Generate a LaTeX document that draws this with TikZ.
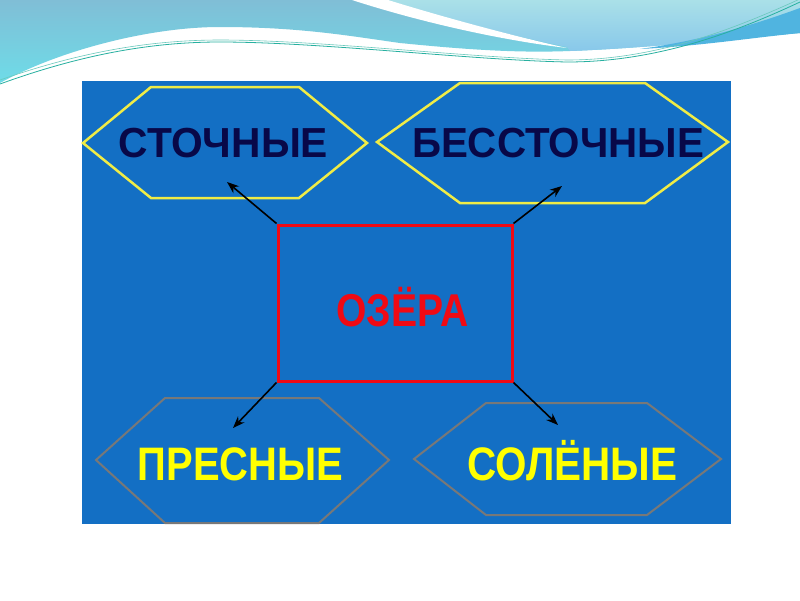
\documentclass[tikz,border=0pt]{standalone}
\usepackage{fontspec}
\setmainfont{Liberation Sans}
\usepackage{graphicx}
\usetikzlibrary{arrows.meta}
\definecolor{panel}{RGB}{19,111,196}
\definecolor{hexyellow}{RGB}{240,236,70}
\definecolor{hexgray}{RGB}{120,120,120}
\definecolor{navytext}{RGB}{8,8,72}
\definecolor{txtyellow}{RGB}{255,255,0}
\definecolor{boxred}{RGB}{240,10,20}
\definecolor{tealtop}{RGB}{128,190,214}
\definecolor{tealbot}{RGB}{110,220,232}
\definecolor{lighttop}{RGB}{170,224,232}
\definecolor{lightbot}{RGB}{136,200,234}
\definecolor{stripe}{RGB}{80,180,224}
\definecolor{thinline}{RGB}{40,176,160}
\tikzset{
  hexedge/.style={line width=2.5pt, draw=hexyellow, line join=miter},
  hexedgegray/.style={line width=2pt, draw=hexgray, line join=miter},
  toplabel/.style={anchor=base, text=navytext, font=\fontsize{42}{42}\selectfont\bfseries, inner sep=0pt},
  botlabel/.style={anchor=base, text=txtyellow, font=\fontsize{47}{47}\selectfont\bfseries, inner sep=0pt},
  centerbox/.style={draw=boxred, line width=3pt, minimum width=234pt, minimum height=156pt, inner sep=0pt},
  arr/.style={line width=1.6pt, -{Stealth[length=12pt,width=9pt]}, black}
}
\begin{document}
\begin{tikzpicture}[x=1pt,y=-1pt]
\useasboundingbox (0,0) rectangle (800,600);
\fill[white] (0,0) rectangle (800,600);
% top decoration
\shade[top color=tealtop, bottom color=tealbot]
  (0,0) -- (800,0) -- (800,33)
  .. controls (740,38) and (650,48) .. (570,51)
  .. controls (520,53) and (470,50) .. (400,43)
  .. controls (350,36) and (300,27) .. (220,27)
  .. controls (150,27) and (60,50) .. (0,83) -- cycle;
\shade[top color=lighttop, bottom color=lightbot]
  (385,0) -- (800,0) -- (800,33)
  .. controls (740,38) and (650,48) .. (570,51)
  -- (567,47)
  .. controls (500,33) and (430,15) .. (385,0) -- cycle;
\fill[stripe] (800,8) .. controls (740,30) and (690,42) .. (640,49)
  .. controls (700,46) and (750,38) .. (800,33) -- cycle;
\fill[white] (352,0) .. controls (420,22) and (500,40) .. (567,48)
  .. controls (500,33) and (430,13) .. (388,0) -- cycle;
\draw[thinline, line width=0.8pt] (0,84) .. controls (80,55) and (150,42) .. (220,42)
  .. controls (320,42) and (470,60) .. (567,62)
  .. controls (660,62) and (740,30) .. (800,2);
\draw[thinline!70!white, line width=0.6pt] (0,80) .. controls (80,52) and (150,40) .. (220,40)
  .. controls (320,40) and (470,58) .. (567,60)
  .. controls (660,60) and (740,26) .. (800,-1);
% panel
\fill[panel] (82,81) rectangle (731,524);
% hexagons
\draw[hexedge] (83,143) -- (151,87) -- (299,87) -- (367,143) -- (299,198) -- (151,198) -- cycle;
\draw[hexedge] (377,142) -- (460,83) -- (645,83) -- (728,142) -- (645,203) -- (460,203) -- cycle;
\draw[hexedgegray] (96,460) -- (165,398) -- (319,398) -- (389,460) -- (319,523) -- (165,523) -- cycle;
\draw[hexedgegray] (414,459) -- (486,403) -- (647,403) -- (721,459) -- (647,515) -- (486,515) -- cycle;
% labels
\node[toplabel] (stoch) at (223.5,157) {\scalebox{0.97}[1]{СТОЧНЫЕ}};
\node[toplabel] (besstoch) at (558,157) {\scalebox{0.96}[1]{БЕССТОЧНЫЕ}};
\node[botlabel] (presn) at (240.5,480) {\scalebox{0.85}[1]{ПРЕСНЫЕ}};
\node[botlabel] (solen) at (572.5,480) {\scalebox{0.86}[1]{СОЛЁНЫЕ}};
% center box
\node[centerbox] (lakes) at (395,303) {};
\node[anchor=base, text=boxred, font=\fontsize{46}{46}\selectfont\bfseries, inner sep=0pt] (lakestext) at (402.5,326) {\scalebox{0.85}[1]{ОЗЁРА}};
% arrow ends
\coordinate (e1) at (227,182);
\coordinate (e2) at (562,186);
\coordinate (e3) at (233,428);
\coordinate (e4) at (558,425);
\draw[arr] (lakes.north west) -- (e1);
\draw[arr] (lakes.north east) -- (e2);
\draw[arr] (lakes.south west) -- (e3);
\draw[arr] (lakes.south east) -- (e4);
\end{tikzpicture}
\end{document}
